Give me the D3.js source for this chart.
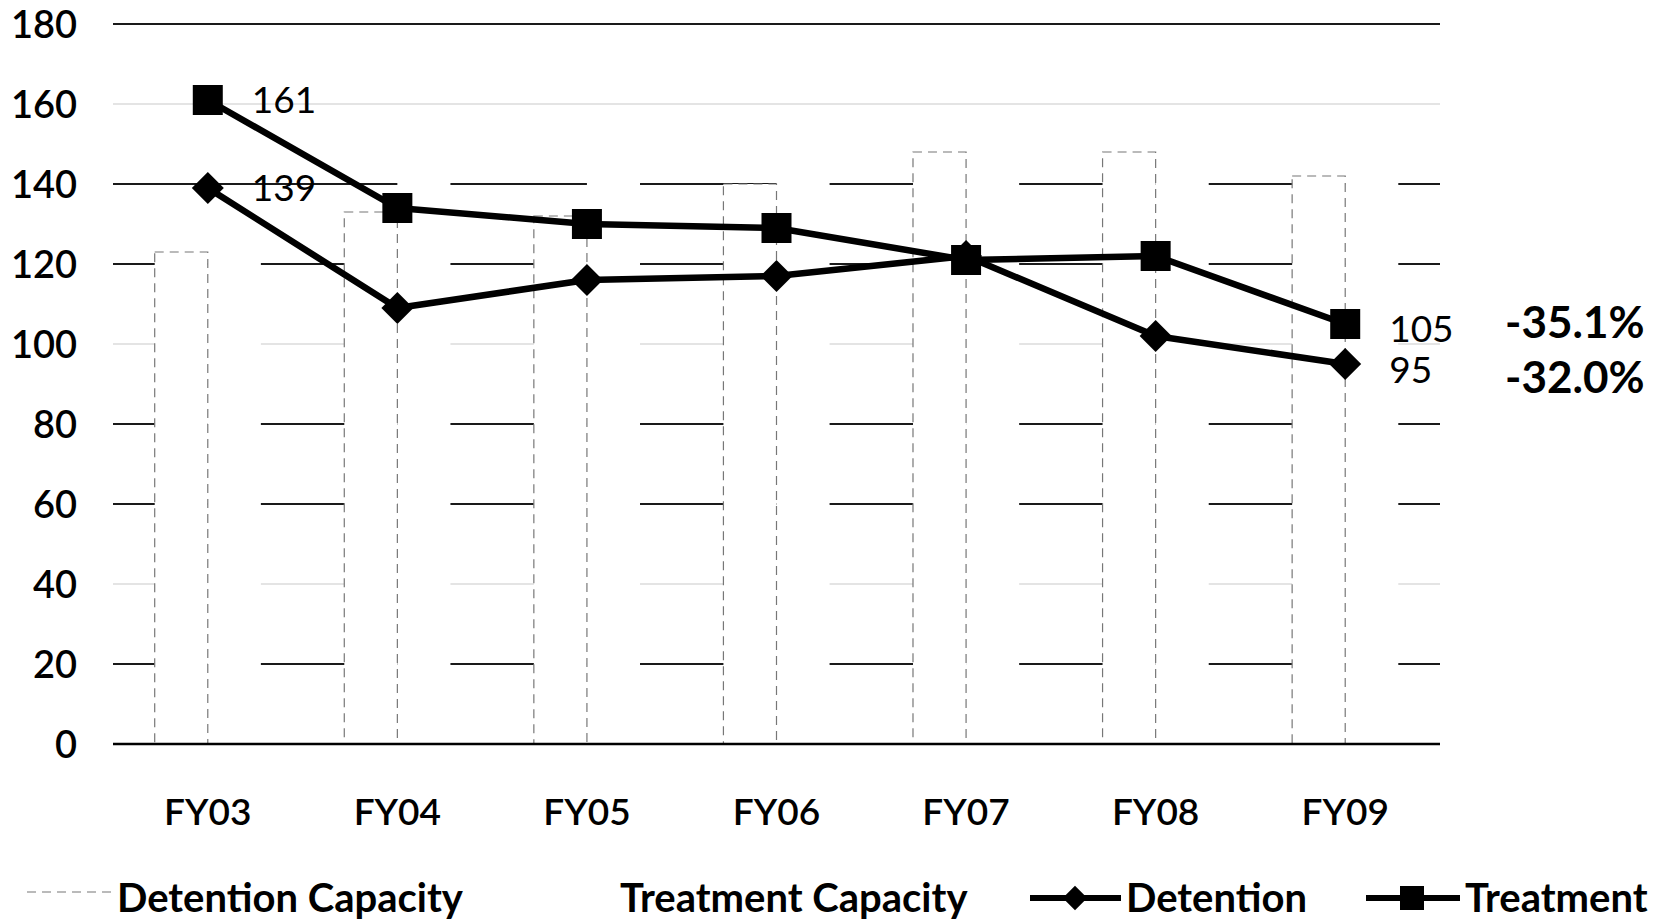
<!DOCTYPE html>
<html>
<head>
<meta charset="utf-8">
<script src="https://cdn.jsdelivr.net/npm/d3@7"></script>
<style>
  body { margin: 0; background: #fff; }
  text { font-family: Lato, "Open Sans", sans-serif; fill: #000; }
</style>
</head>
<body>
<svg></svg>
<script>
var width = 1661;
var height = 921;

var years = ["FY03", "FY04", "FY05", "FY06", "FY07", "FY08", "FY09"];
var detentionCapacity = [123, 133, 132, 140, 148, 148, 142];
var treatmentCapacity = [130, 150, 150, 152, 155, 155, 152];
var detention = [139, 109, 116, 117, 122, 102, 95];
var treatment = [161, 134, 130, 129, 121, 122, 105];
var yTicks = [0, 20, 40, 60, 80, 100, 120, 140, 160, 180];
var fadedTicks = [40, 100, 160];
var changeLabels = ["-35.1%", "-32.0%"];

var svg = d3.select("svg")
              .attr("width", width)
              .attr("height", height);

var x = d3.scaleBand()
          .domain(years)
          .range([113, 1440])
          .paddingInner(0.44)
          .paddingOuter(0.22);

var xSub = d3.scaleBand()
             .domain(["Detention Capacity", "Treatment Capacity"])
             .range([0, x.bandwidth()]);

var y = d3.scaleLinear()
          .domain([0, 180])
          .range([744, 24]);

var center = d => x(d) + x.bandwidth() / 2;

// gridlines first, bars (white) cover them
svg.append("g")
   .selectAll("line")
   .data(yTicks.filter(d => d > 0))
   .enter()
   .append("line")
     .attr("x1", 113)
     .attr("x2", 1440)
     .attr("y1", d => y(d))
     .attr("y2", d => y(d))
     .attr("stroke", d => fadedTicks.includes(d) ? "#e4e4e4" : "#1a1a1a")
     .attr("stroke-width", 2);

// treatment capacity: white, no outline
svg.append("g")
   .selectAll("rect")
   .data(years)
   .enter()
   .append("rect")
     .attr("x", d => x(d) + xSub("Treatment Capacity"))
     .attr("width", xSub.bandwidth())
     .attr("y", (d, i) => y(treatmentCapacity[i]))
     .attr("height", (d, i) => y(0) - y(treatmentCapacity[i]))
     .attr("fill", "#fff");

// detention capacity: white with faint dashed outline
svg.append("g")
   .selectAll("rect")
   .data(years)
   .enter()
   .append("rect")
     .attr("x", d => x(d) + xSub("Detention Capacity"))
     .attr("width", xSub.bandwidth())
     .attr("y", (d, i) => y(detentionCapacity[i]))
     .attr("height", (d, i) => y(0) - y(detentionCapacity[i]))
     .attr("fill", "#fff")
     .attr("stroke", "#777")
     .attr("stroke-width", 1.2)
     .attr("stroke-dasharray", "9,6");

// axis line at zero
svg.append("line")
   .attr("x1", 113)
   .attr("x2", 1440)
   .attr("y1", y(0))
   .attr("y2", y(0))
   .attr("stroke", "#000")
   .attr("stroke-width", 2.5);

// y tick labels
svg.append("g")
   .selectAll("text")
   .data(yTicks)
   .enter()
   .append("text")
     .attr("x", 77)
     .attr("y", d => y(d))
     .attr("dy", "0.36em")
     .attr("text-anchor", "end")
     .attr("font-size", 38)
     .attr("font-weight", 600)
     .text(d => d);

// x labels
svg.append("g")
   .selectAll("text")
   .data(years)
   .enter()
   .append("text")
     .attr("x", center)
     .attr("y", 812)
     .attr("dy", "0.36em")
     .attr("text-anchor", "middle")
     .attr("font-size", 37)
     .attr("font-weight", 600)
     .text(d => d);

var line = d3.line()
             .x((d, i) => center(years[i]))
             .y(d => y(d));

var diamond = d3.symbol().type(d3.symbolSquare).size(512);
var square = d3.symbol().type(d3.symbolSquare).size(900);

function drawSeries(values, sym, rotate) {
  svg.append("path")
     .datum(values)
     .attr("d", line)
     .attr("fill", "none")
     .attr("stroke", "#000")
     .attr("stroke-width", 6.5)
     .attr("stroke-linejoin", "round");

  svg.append("g")
     .selectAll("path")
     .data(values)
     .enter()
     .append("path")
       .attr("d", sym)
       .attr("transform", (d, i) => "translate(" + center(years[i]) + "," + y(d) + ")" + (rotate ? " rotate(45)" : ""))
       .attr("fill", "#000");
}

drawSeries(detention, diamond, true);
drawSeries(treatment, square, false);

// data labels on first and last points
var labelled = [
  { value: treatment[0], i: 0, dy: 0 },
  { value: detention[0], i: 0, dy: 0 },
  { value: treatment[6], i: 6, dy: 5 },
  { value: detention[6], i: 6, dy: 6 }
];

svg.append("g")
   .selectAll("text")
   .data(labelled)
   .enter()
   .append("text")
     .attr("x", d => center(years[d.i]) + 44)
     .attr("y", d => y(d.value) + d.dy)
     .attr("dy", "0.36em")
     .attr("font-size", 37)
     .text(d => d.value);

// percent change annotations
svg.append("g")
   .selectAll("text")
   .data(changeLabels)
   .enter()
   .append("text")
     .attr("x", 1505)
     .attr("y", (d, i) => 322 + i * 55)
     .attr("dy", "0.36em")
     .attr("font-size", 44)
     .attr("font-weight", 700)
     .text(d => d);

// legend
var legend = svg.append("g").attr("transform", "translate(0,898)");

legend.append("line")
      .attr("x1", 27).attr("x2", 111)
      .attr("y1", -6).attr("y2", -6)
      .attr("stroke", "#777")
      .attr("stroke-width", 1.2)
      .attr("stroke-dasharray", "9,6");

legend.append("text").attr("x", 117).attr("font-size", 40).attr("font-weight", 700)
      .attr("dy", "0.36em").text("Detention Capacity");

legend.append("text").attr("x", 620).attr("font-size", 40).attr("font-weight", 700)
      .attr("dy", "0.36em").text("Treatment Capacity");

legend.append("line").attr("x1", 1030).attr("x2", 1121)
      .attr("stroke", "#000").attr("stroke-width", 6);
legend.append("path")
      .attr("d", d3.symbol().type(d3.symbolSquare).size(300))
      .attr("transform", "translate(1075,0) rotate(45)");
legend.append("text").attr("x", 1126).attr("font-size", 40).attr("font-weight", 700)
      .attr("dy", "0.36em").text("Detention");

legend.append("line").attr("x1", 1366).attr("x2", 1460)
      .attr("stroke", "#000").attr("stroke-width", 6);
legend.append("path")
      .attr("d", d3.symbol().type(d3.symbolSquare).size(576))
      .attr("transform", "translate(1412,0)");
legend.append("text").attr("x", 1465).attr("font-size", 40).attr("font-weight", 700)
      .attr("dy", "0.36em").text("Treatment");
</script>
</body>
</html>
